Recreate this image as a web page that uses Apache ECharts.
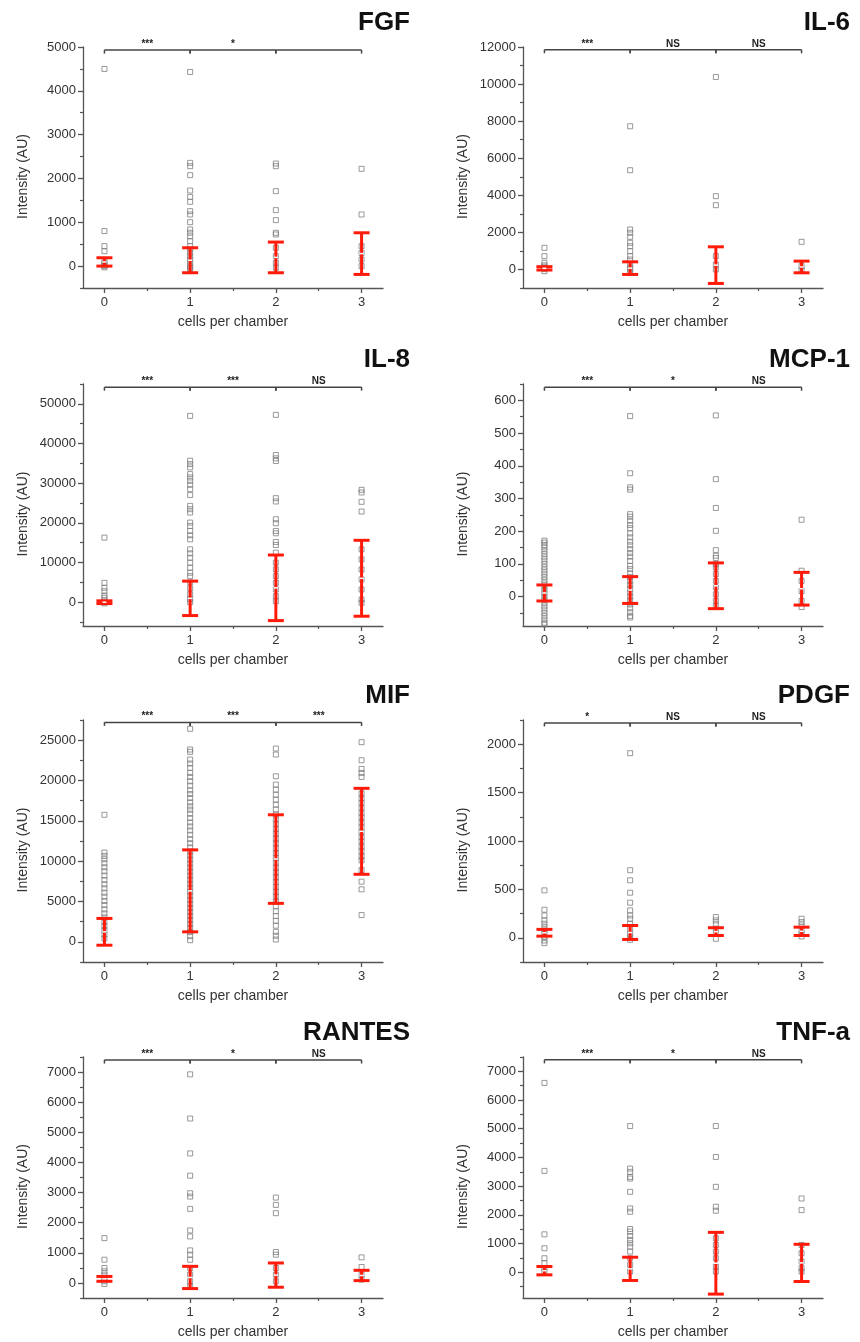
<!DOCTYPE html>
<html>
<head>
<meta charset="utf-8">
<title>Cytokine secretion per chamber</title>
<script src="https://cdn.jsdelivr.net/npm/echarts@6/dist/echarts.min.js"></script>
<style>
  html, body { margin: 0; padding: 0; background: #fff; }
  #main { width: 860px; height: 1342px; }
</style>
</head>
<body>
<div id="main"></div>
<script>
// cells per chamber
const groups = [0, 1, 2, 3]

// FGF
const fgfPoints = [
  [4500, 800, 455, 340, 120, 60, 20, 0, -30],
  [4430, 2356, 2280, 2075, 1725, 1580, 1467, 1254, 1178, 1003, 836, 760, 680, 570, 456, 380, 304, 228, 150, 76, 0, -40, -76],
  [2340, 2280, 1710, 1277, 1049, 760, 722, 420, 228, 76, -38],
  [2220, 1178, 456, 300, 152, 0]
]
const fgfMean = [95, 133, 198, 285]
const fgfSd = [95, 285, 350, 475]
const fgfSig = ['***', '*', '']
const fgfTicks = [0, 1000, 2000, 3000, 4000, 5000]
const fgfMinor = [-500, 500, 1500, 2500, 3500, 4500]

// IL-6
const il6Points = [
  [1168, 718, 360, 220, 150, 80, 20, -90],
  [7724, 5353, 2156, 1976, 1760, 1437, 1257, 988, 718, 539, 270, 100, 0, -180],
  [10383, 3952, 3467, 718, 270, 0],
  [1491, 180, 0]
]
const il6Mean = [60, 72, 234, 135]
const il6Sd = [90, 341, 988, 315]
const il6Sig = ['***', 'NS', 'NS']
const il6Ticks = [0, 2000, 4000, 6000, 8000, 10000, 12000]
const il6Minor = [-1000, 1000, 3000, 5000, 7000, 9000, 11000]

// IL-8
const il8Points = [
  [16270, 4890, 3625, 2780, 1690, 1100, 500, 0, -300],
  [46960, 35670, 34820, 33980, 32290, 31450, 30600, 29600, 28500, 27000, 24280, 23440, 22600, 20070, 19220, 17960, 16860, 15850, 13320, 12310, 11210, 9950, 8680, 7420, 6580, 5000, 3500, 2000, 800, 0],
  [47220, 37100, 36260, 35580, 26220, 25380, 20910, 19900, 17960, 17370, 15180, 14420, 12480, 9950, 8260, 6580, 4890, 3200, 1520, 250],
  [28330, 27660, 25300, 22850, 13320, 10790, 8260, 5730, 3200, 675, -170]
]
const il8Mean = [0, 970, 3625, 6030]
const il8Sd = [350, 4340, 8265, 9570]
const il8Sig = ['***', '***', 'NS']
const il8Ticks = [0, 10000, 20000, 30000, 40000, 50000]
const il8Minor = [-5000, 5000, 15000, 25000, 35000, 45000, 55000]

// MCP-1
const mcp1Points = [
  [171, 165, 158, 150, 140, 130, 120, 110, 100, 90, 80, 70, 60, 50, 40, 30, 20, 10, 0, -10, -20, -30, -40, -50, -60, -70, -80, -85],
  [552, 377, 334, 327, 252, 244, 232, 219, 209, 193, 181, 168, 157, 145, 133, 122, 109, 94, 84, 71, 60, 48, 36, 24, 12, 0, -12, -24, -36, -48, -59, -64],
  [554, 359, 271, 201, 142, 125, 118, 99, 89, 69, 48, 28, 7, -13, -29],
  [235, 79, 48, 17, -13, -32]
]
const mcp1Mean = [11, 20, 33, 24]
const mcp1Sd = [24.5, 41, 70, 50]
const mcp1Sig = ['***', '*', 'NS']
const mcp1Ticks = [0, 100, 200, 300, 400, 500, 600]
const mcp1Minor = [-50, 50, 150, 250, 350, 450, 550, 650]

// MIF
const mifPoints = [
  [15750, 11070, 10650, 10240, 9740, 9245, 8750, 8210, 7670, 7130, 6630, 6090, 5600, 5060, 4560, 4020, 3520, 3030, 2490, 1950, 1450, 910, 410],
  [26410, 23840, 23550, 22600, 22100, 21560, 20940, 20440, 19900, 19360, 18780, 18320, 17830, 17290, 16790, 16380, 15880, 15340, 14800, 14300, 13810, 13270, 12730, 12230, 11700, 11200, 10700, 10200, 9700, 9200, 8700, 8200, 7700, 7200, 6700, 6200, 5700, 5200, 4700, 4200, 3700, 3200, 2700, 2200, 1700, 1200, 700, 200],
  [23960, 23220, 20520, 19490, 18860, 18240, 17620, 17000, 16400, 15800, 15200, 14600, 14000, 13400, 12800, 12200, 11600, 11000, 10400, 9800, 9200, 8600, 8000, 7400, 6800, 6200, 5600, 5000, 4400, 3800, 3200, 2600, 2000, 1245, 750, 290],
  [24750, 22510, 21430, 20940, 20440, 18400, 17800, 17200, 16600, 16000, 15400, 14800, 14200, 13600, 13000, 12400, 11800, 11200, 10600, 10100, 8900, 7460, 6510, 3320]
]
const mifMean = [1240, 6320, 10260, 13700]
const mifSd = [1660, 5080, 5490, 5330]
const mifSig = ['***', '***', '***']
const mifTicks = [0, 5000, 10000, 15000, 20000, 25000]
const mifMinor = [-2500, 2500, 7500, 12500, 17500, 22500, 27500]

// PDGF
const pdgfPoints = [
  [490, 290, 231, 180, 145, 110, 76, 41, 7, -28, -55],
  [1907, 698, 594, 466, 363, 283, 231, 197, 145, 93, 41, 7, -21],
  [214, 180, 145, 93, 41, -10],
  [197, 162, 128, 76, 41, 14]
]
const pdgfMean = [52, 55, 64, 67]
const pdgfSd = [35, 72, 40, 43]
const pdgfSig = ['*', 'NS', 'NS']
const pdgfTicks = [0, 500, 1000, 1500, 2000]
const pdgfMinor = [-250, 250, 750, 1250, 1750, 2250]

// RANTES
const rantesPoints = [
  [1488, 772, 496, 386, 276, 165, 55, -33],
  [6924, 5458, 4300, 3561, 2977, 2867, 2459, 1742, 1543, 1080, 937, 772, 496, 276, 55, -110],
  [2833, 2591, 2315, 1025, 937, 496, 276, 55],
  [849, 529, 276, 110]
]
const rantesMean = [135, 182, 260, 248]
const rantesSd = [80, 369, 402, 171]
const rantesSig = ['***', '*', 'NS']
const rantesTicks = [0, 1000, 2000, 3000, 4000, 5000, 6000, 7000]
const rantesMinor = [-500, 500, 1500, 2500, 3500, 4500, 5500, 6500, 7500]

// TNF-a
const tnfPoints = [
  [6597, 3530, 1319, 833, 486, 312, 139, 23],
  [5093, 3611, 3495, 3322, 3264, 2801, 2222, 2106, 1505, 1412, 1262, 1123, 1007, 891, 718, 486, 255, 23],
  [5093, 4016, 2975, 2280, 2141, 1180, 949, 718, 486, 197, 23],
  [2569, 2164, 949, 660, 370, 139, 23]
]
const tnfMean = [52, 116, 312, 324]
const tnfSd = [145, 405, 1076, 648]
const tnfSig = ['***', '*', 'NS']
const tnfTicks = [0, 1000, 2000, 3000, 4000, 5000, 6000, 7000]
const tnfMinor = [-500, 500, 1500, 2500, 3500, 4500, 5500, 6500, 7500]

const panels = [
  { name: 'FGF', points: fgfPoints, mean: fgfMean, sd: fgfSd, sig: fgfSig, ticks: fgfTicks, minor: fgfMinor, min: -500, max: 5000, bracket: 4930 },
  { name: 'IL-6', points: il6Points, mean: il6Mean, sd: il6Sd, sig: il6Sig, ticks: il6Ticks, minor: il6Minor, min: -1000, max: 12000, bracket: 11850 },
  { name: 'IL-8', points: il8Points, mean: il8Mean, sd: il8Sd, sig: il8Sig, ticks: il8Ticks, minor: il8Minor, min: -6000, max: 55000, bracket: 54200 },
  { name: 'MCP-1', points: mcp1Points, mean: mcp1Mean, sd: mcp1Sd, sig: mcp1Sig, ticks: mcp1Ticks, minor: mcp1Minor, min: -90, max: 650, bracket: 640 },
  { name: 'MIF', points: mifPoints, mean: mifMean, sd: mifSd, sig: mifSig, ticks: mifTicks, minor: mifMinor, min: -2500, max: 27500, bracket: 27200 },
  { name: 'PDGF', points: pdgfPoints, mean: pdgfMean, sd: pdgfSd, sig: pdgfSig, ticks: pdgfTicks, minor: pdgfMinor, min: -250, max: 2250, bracket: 2220 },
  { name: 'RANTES', points: rantesPoints, mean: rantesMean, sd: rantesSd, sig: rantesSig, ticks: rantesTicks, minor: rantesMinor, min: -500, max: 7500, bracket: 7400 },
  { name: 'TNF-a', points: tnfPoints, mean: tnfMean, sd: tnfSd, sig: tnfSig, ticks: tnfTicks, minor: tnfMinor, min: -900, max: 7500, bracket: 7400 }
]

const FONT = 'Liberation Sans, Arial, Helvetica, sans-serif'
const AXIS_COLOR = '#555'
const TEXT_COLOR = '#333'
const RED = '#ff1a0a'

const colLeft = [83, 523]
const rowTop = [47, 384, 720, 1057]
const rowHeight = [241, 242, 242, 241]
const titleTop = [5, 342, 678, 1015]

const option = {
  animation: false,
  backgroundColor: '#fff',
  title: [],
  grid: [],
  xAxis: [],
  yAxis: [],
  series: []
}

function errorBarItem(params, api) {
  const x = api.value(0)
  const m = api.value(1)
  const s = api.value(2)
  const top = api.coord([x, m + s])
  const bot = api.coord([x, m - s])
  const mid = api.coord([x, m])
  const half = 8
  const style = { stroke: RED, lineWidth: 3 }
  return {
    type: 'group',
    children: [
      { type: 'line', shape: { x1: top[0], y1: top[1], x2: bot[0], y2: bot[1] }, style: style },
      { type: 'line', shape: { x1: top[0] - half, y1: top[1], x2: top[0] + half, y2: top[1] }, style: style },
      { type: 'line', shape: { x1: bot[0] - half, y1: bot[1], x2: bot[0] + half, y2: bot[1] }, style: style },
      { type: 'line', shape: { x1: mid[0] - 2, y1: mid[1], x2: mid[0] + 2, y2: mid[1] }, style: { stroke: '#fff', lineWidth: 1.5 } }
    ]
  }
}

function bracketRenderer(sig) {
  return function (params, api) {
    const a = api.coord([api.value(0), api.value(2)])
    const b = api.coord([api.value(1), api.value(2)])
    const lineStyle = { stroke: '#444', lineWidth: 1.5 }
    return {
      type: 'group',
      children: [
        { type: 'line', shape: { x1: a[0], y1: a[1], x2: b[0], y2: b[1] }, style: lineStyle },
        { type: 'line', shape: { x1: a[0], y1: a[1], x2: a[0], y2: a[1] + 3.5 }, style: lineStyle },
        { type: 'line', shape: { x1: b[0], y1: b[1], x2: b[0], y2: b[1] + 3.5 }, style: lineStyle },
        {
          type: 'text',
          x: (a[0] + b[0]) / 2,
          y: a[1] - 1,
          style: {
            text: sig[params.dataIndex],
            fill: '#222',
            font: 'bold 10px ' + FONT,
            align: 'center',
            verticalAlign: 'bottom'
          }
        }
      ]
    }
  }
}

panels.forEach(function (p, i) {
  const col = i % 2
  const row = Math.floor(i / 2)
  const xMain = i * 2
  const yMain = i * 2

  option.title.push({
    text: p.name,
    right: col === 0 ? 445 : 5,
    top: titleTop[row],
    textStyle: { fontFamily: FONT, fontSize: 26, fontWeight: 'bold', color: '#111' }
  })

  option.grid.push({
    left: colLeft[col],
    top: rowTop[row],
    width: 300,
    height: rowHeight[row],
    containLabel: false,
    outerBoundsMode: 'none'
  })

  // main x axis with labels at whole cell counts
  option.xAxis.push({
    type: 'value',
    gridIndex: i,
    position: 'bottom',
    min: -0.25,
    max: 3.25,
    name: 'cells per chamber',
    nameLocation: 'middle',
    nameGap: 27,
    nameTextStyle: { fontFamily: FONT, fontSize: 14, color: TEXT_COLOR },
    axisLine: { onZero: false, lineStyle: { color: AXIS_COLOR, width: 1.3 } },
    axisTick: { customValues: groups, length: 5, lineStyle: { color: AXIS_COLOR, width: 1.3 } },
    axisLabel: { customValues: groups, margin: 8, fontFamily: FONT, fontSize: 13, color: TEXT_COLOR },
    splitLine: { show: false }
  })
  // minor ticks between groups
  option.xAxis.push({
    type: 'value',
    gridIndex: i,
    position: 'bottom',
    min: -0.25,
    max: 3.25,
    axisLine: { show: false, onZero: false },
    axisTick: { customValues: [0.5, 1.5, 2.5], length: 3, lineStyle: { color: AXIS_COLOR, width: 1.2 } },
    axisLabel: { show: false },
    splitLine: { show: false }
  })

  option.yAxis.push({
    type: 'value',
    gridIndex: i,
    position: 'left',
    min: p.min,
    max: p.max,
    name: 'Intensity (AU)',
    nameLocation: 'middle',
    nameGap: 53,
    nameTextStyle: { fontFamily: FONT, fontSize: 14, color: TEXT_COLOR, padding: [0, 18, 0, 0] },
    axisLine: { show: true, onZero: false, lineStyle: { color: AXIS_COLOR, width: 1.3 } },
    axisTick: { show: true, customValues: p.ticks, length: 5, lineStyle: { color: AXIS_COLOR, width: 1.3 } },
    axisLabel: {
      customValues: p.ticks,
      margin: 7,
      fontFamily: FONT,
      fontSize: 13,
      color: TEXT_COLOR,
      formatter: function (v) { return String(v) }
    },
    splitLine: { show: false }
  })
  option.yAxis.push({
    type: 'value',
    gridIndex: i,
    position: 'left',
    min: p.min,
    max: p.max,
    axisLine: { show: false, onZero: false },
    axisTick: { show: true, customValues: p.minor, length: 3, lineStyle: { color: AXIS_COLOR, width: 1.2 } },
    axisLabel: { show: false },
    splitLine: { show: false }
  })

  const pts = []
  p.points.forEach(function (vals, g) {
    vals.forEach(function (v) { pts.push([groups[g], v]) })
  })
  option.series.push({
    type: 'scatter',
    xAxisIndex: xMain,
    yAxisIndex: yMain,
    symbol: 'rect',
    symbolSize: 5,
    itemStyle: { color: 'rgba(255,255,255,0)', borderColor: '#808080', borderWidth: 1 },
    data: pts,
    z: 2
  })

  option.series.push({
    type: 'custom',
    xAxisIndex: xMain,
    yAxisIndex: yMain,
    renderItem: errorBarItem,
    data: groups.map(function (g, k) { return [g, p.mean[k], p.sd[k]] }),
    z: 3
  })

  option.series.push({
    type: 'custom',
    xAxisIndex: xMain,
    yAxisIndex: yMain,
    clip: false,
    renderItem: bracketRenderer(p.sig),
    data: [0, 1, 2].map(function (k) { return [groups[k], groups[k + 1], p.bracket] }),
    z: 4
  })
})

const chart = echarts.init(document.getElementById('main'))
chart.setOption(option)
</script>
</body>
</html>
